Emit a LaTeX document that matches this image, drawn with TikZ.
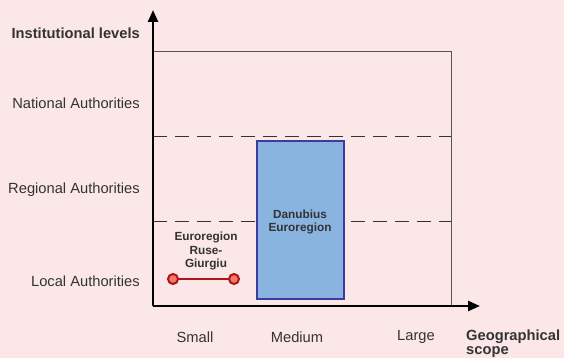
\documentclass[tikz,border=0pt]{standalone}
\usepackage{fontspec}
\setmainfont{Liberation Sans}
\usetikzlibrary{arrows.meta}
\definecolor{cbg}{HTML}{FBE7E8}
\definecolor{ctext}{HTML}{333333}
\definecolor{cframe}{HTML}{555555}
\definecolor{cblue}{HTML}{8AB4E0}
\definecolor{cblueline}{HTML}{3C3CA0}
\definecolor{cred}{HTML}{B0141A}
\definecolor{cdot}{HTML}{F07A64}

\begin{document}
\begin{tikzpicture}[x=1pt, y=-1pt, every node/.style={font=\fontsize{14.7}{16}\selectfont, text=ctext, inner sep=0pt}, axis/.style={line width=2.4pt, -{Triangle[length=12pt, width=10pt]}}, level/.style={anchor=east}, scope/.style={anchor=center}, inlabel/.style={font=\fontsize{11.8}{13.5}\selectfont\bfseries, align=center}, dot/.style={circle, draw=cred, fill=cdot, line width=2pt, minimum size=10pt}]
    \fill[cbg] (0,0) rectangle (564,358);
    \useasboundingbox (0,0) rectangle (564,358);
    % frame and level borders
    \draw[cframe, line width=1pt] (153,52) -- (451,52) -- (451,306);
    \draw[ctext, line width=1pt, dash pattern=on 14pt off 8pt] (153,137) -- (451,137);
    \draw[ctext, line width=1pt, dash pattern=on 14pt off 8pt] (153,221) -- (451,221);
    % axes
    \coordinate (o) at (153,306);
    \coordinate (ytip) at (153,10);
    \coordinate (xtip) at (480,306);
    \draw[axis] (o) -- (ytip);
    \draw[axis] (o) -- (xtip);
    % levels
    \node[level, font=\fontsize{14.7}{16}\selectfont\bfseries] (inst) at (140,33) {Institutional levels};
    \node[level] (nat) at (140,103) {National Authorities};
    \node[level] (reg) at (140,190) {Regional Authorities};
    \node[level] (loc) at (140,281) {Local Authorities};
    % scopes
    \node[scope] (small) at (195,337) {Small};
    \node[scope] (medium) at (297,337) {Medium};
    \node[scope] (large) at (416,337) {Large};
    \node[anchor=north west, align=left, font=\fontsize{14.7}{14}\selectfont\bfseries] (geo) at (466,330) {Geographical\\scope};
    % Danubius Euroregion
    \draw[cblueline, fill=cblue, line width=2.4pt] (257,141) rectangle (344,299);
    \node[inlabel] (danub) at (300,222) {Danubius\\Euroregion};
    % Euroregion Ruse-Giurgiu
    \node[inlabel] (ruse) at (206,251) {Euroregion\\Ruse-\\Giurgiu};
    \node[dot] (ra) at (173,279) {};
    \node[dot] (rb) at (234,279) {};
    \draw[cred, line width=1.8pt] (ra) -- (rb);
  \end{tikzpicture}
\end{document}
